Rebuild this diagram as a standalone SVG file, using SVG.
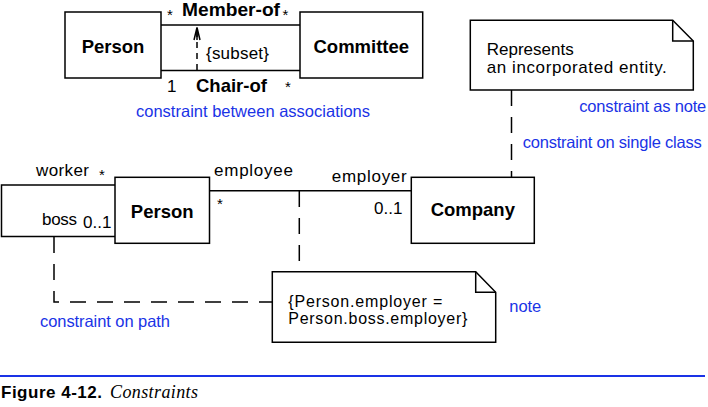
<svg xmlns="http://www.w3.org/2000/svg" width="708" height="407" viewBox="0 0 708 407">
<style>
.box{fill:#fff;stroke:#000;stroke-width:1.5}
.ln{fill:none;stroke:#000;stroke-width:1.5}
.dash{fill:none;stroke:#000;stroke-width:1.5;stroke-dasharray:16 11}
.b{font-family:"Liberation Sans",Arial,sans-serif;font-weight:bold;font-size:18.5px;fill:#000}
.t{font-family:"Liberation Sans",Arial,sans-serif;font-size:17px;fill:#000}
.n{font-family:"Liberation Sans",Arial,sans-serif;font-size:16px;fill:#000}
.s{font-family:"Liberation Sans",Arial,sans-serif;font-size:15px;fill:#000}
.bl{font-family:"Liberation Sans",Arial,sans-serif;font-size:16.5px;fill:#1a33e6}
</style>
<rect width="708" height="407" fill="#fff"/>
<g id="connectors">
  <line class="ln" x1="161" y1="25" x2="300" y2="25"/>
  <line class="ln" x1="161" y1="70.5" x2="300" y2="70.5"/>
  <line x1="197" y1="70" x2="197" y2="28" stroke="#000" stroke-width="1.5" stroke-dasharray="6 5"/>
  <line x1="197" y1="28" x2="197" y2="40" stroke="#000" stroke-width="1.5"/>
  <polyline class="ln" points="194,40 197,27.5 200,40"/>
  <path class="ln" d="M115,185 H1.5 V236.5 H115"/>
  <line class="ln" x1="209.5" y1="190.7" x2="411.3" y2="190.7"/>
  <path class="dash" d="M54,237 V302 H273"/>
  <line class="dash" x1="299.3" y1="191" x2="299.3" y2="272"/>
  <line class="dash" x1="511.5" y1="90" x2="511.5" y2="177"/>
</g>
<g id="person-top">
  <rect class="box" x="65" y="12" width="96" height="66"/>
  <text class="b" x="113" y="53" text-anchor="middle">Person</text>
</g>
<g id="committee">
  <rect class="box" x="300" y="12" width="122.7" height="66"/>
  <text class="b" x="361.3" y="53" text-anchor="middle">Committee</text>
</g>
<g id="assoc-labels">
  <text class="b" x="182" y="16" textLength="98" lengthAdjust="spacingAndGlyphs">Member-of</text>
  <text class="s" x="167" y="20">*</text>
  <text class="s" x="282.5" y="20">*</text>
  <text class="t" x="206" y="59" textLength="63">{subset}</text>
  <text class="t" x="167" y="92">1</text>
  <text class="b" x="196" y="92">Chair-of</text>
  <text class="s" x="285" y="92">*</text>
  <text class="bl" x="136" y="117" textLength="234">constraint between associations</text>
</g>
<g id="person-mid">
  <rect class="box" x="115" y="177.3" width="94.5" height="66"/>
  <text class="b" x="162.2" y="218" text-anchor="middle">Person</text>
  <text class="t" x="36" y="176" textLength="53">worker</text>
  <text class="s" x="99" y="180">*</text>
  <text class="t" x="42" y="225" textLength="35">boss</text>
  <text class="t" x="83" y="228">0..1</text>
  <text class="t" x="214" y="176" textLength="79">employee</text>
  <text class="s" x="217" y="209">*</text>
</g>
<g id="company">
  <rect class="box" x="411.3" y="177.3" width="123" height="66"/>
  <text class="b" x="472.8" y="216" text-anchor="middle">Company</text>
  <text class="t" x="331.7" y="182" textLength="75">employer</text>
  <text class="t" x="374" y="214">0..1</text>
</g>
<g id="note-entity">
  <path class="box" d="M470.3,20.3 H672.7 L693.3,41 V90 H470.3 Z"/>
  <path class="ln" d="M672.7,20.3 V41 H693.3"/>
  <text class="t" x="486.7" y="55" textLength="87">Represents</text>
  <text class="t" x="486.7" y="72.7" textLength="180">an incorporated entity.</text>
  <text class="bl" x="579.3" y="111.7" textLength="127">constraint as note</text>
  <text class="bl" x="522.7" y="147.7" textLength="179">constraint on single class</text>
</g>
<g id="note-path">
  <path class="box" d="M272.3,271.7 H475.7 L495.7,292.3 V342.3 H272.3 Z"/>
  <path class="ln" d="M475.7,271.7 V292.3 H495.7"/>
  <text class="n" x="288.3" y="306.7" textLength="154">{Person.employer =</text>
  <text class="n" x="288.3" y="323.5" textLength="179">Person.boss.employer}</text>
  <text class="bl" x="509.3" y="311.7" textLength="32">note</text>
  <text class="bl" x="40" y="326.7" textLength="130">constraint on path</text>
</g>
<g id="caption">
  <line x1="0" y1="376" x2="705" y2="376" stroke="#1a33e6" stroke-width="2"/>
  <text x="1" y="398" font-family="'Liberation Sans',Arial,sans-serif" font-weight="bold" font-size="17px" fill="#000" textLength="101">Figure 4-12.</text>
  <text x="110" y="398" font-family="'Liberation Serif','Times New Roman',serif" font-style="italic" font-size="18px" fill="#000" textLength="88">Constraints</text>
</g>
</svg>
